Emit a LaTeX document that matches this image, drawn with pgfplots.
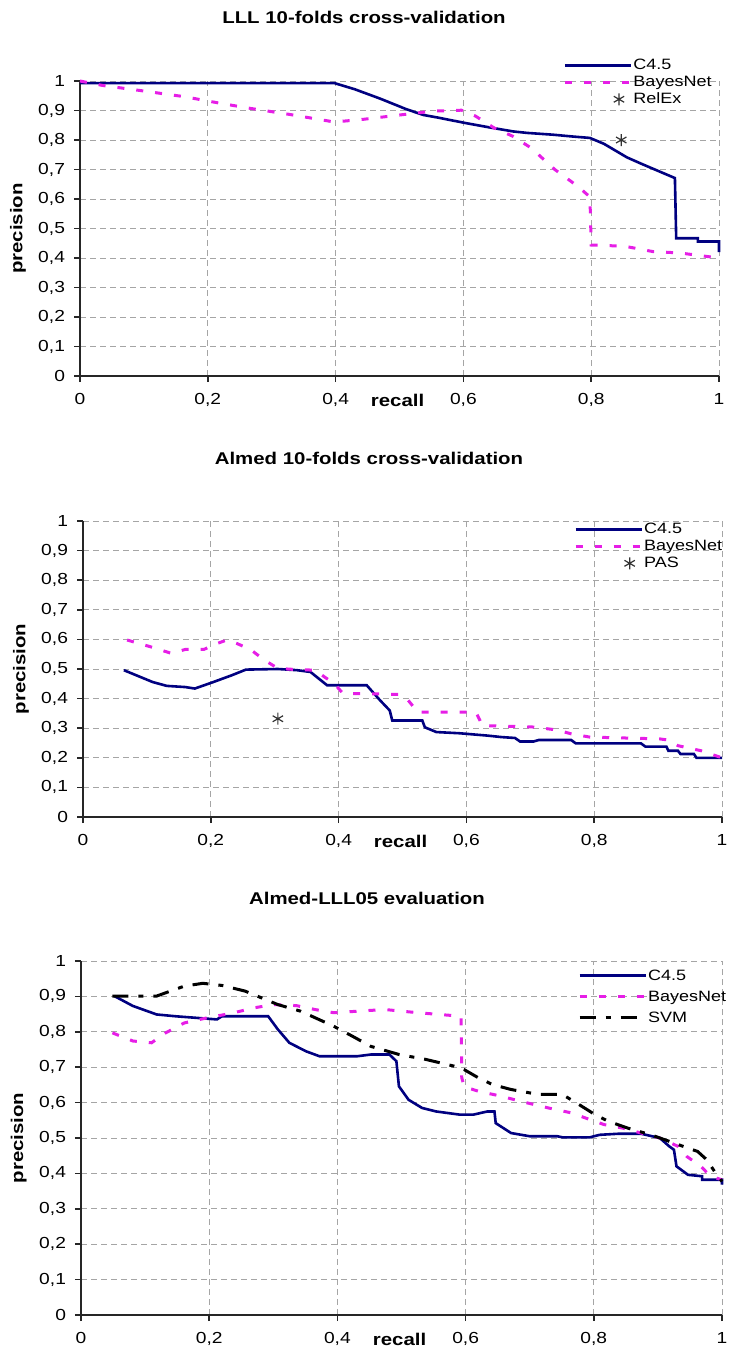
\documentclass[border=0pt]{standalone}
\usepackage{fontspec}
\setmainfont{Liberation Sans}[FakeStretch=1.2]
\usepackage{pgfplots}
\pgfplotsset{compat=1.18}
\definecolor{cnavy}{RGB}{0,0,128}
\definecolor{cmag}{RGB}{230,30,230}
\definecolor{cgrid}{RGB}{165,165,165}
\pgfplotsset{
  myaxis/.style={
    scale only axis, width=319.5pt,
    xmin=0, xmax=1, ymin=0, ymax=1,
    axis lines*=left,
    axis line style={line width=0.8pt, black!85},
    xtick={0,0.2,0.4,0.6,0.8,1},
    ytick={0,0.1,0.2,0.3,0.4,0.5,0.6,0.7,0.8,0.9,1},
    tick align=outside, major tick length=3pt,
    tick style={line width=0.8pt, black!85},
    grid=major,
    major grid style={cgrid, line width=0.5pt, dash pattern=on 3pt off 2pt},
    /pgf/number format/use comma,
    /pgf/number format/assume math mode=true,
    ticklabel style={font=\fontsize{8}{9}\selectfont},
    xticklabel style={yshift=-2pt},
    yticklabel style={xshift=-1pt},
    xlabel={recall}, ylabel={precision},
    label style={font=\bfseries\fontsize{8.5}{10}\selectfont},
    ylabel style={at={(axis description cs:-0.097,0.5)}, anchor=center},
    xlabel style={at={(axis description cs:0.497,0)}, anchor=center, yshift=-12pt},
    legend style={draw=none, fill=none, inner sep=0pt,
      font=\fontsize{7.5}{9}\selectfont,
      nodes={inner sep=0.5pt, text height=6pt, text depth=1.5pt}},
    legend cell align=left,
    clip=false,
  },
  c45/.style={cnavy, line width=1.3pt, mark=none,
    legend image code/.code={\draw[##1] (0pt,0pt) -- (33pt,0pt);}},
  bayes/.style={cmag, line width=1.5pt, mark=none, dash pattern=on 3.5pt off 6pt,
    legend image code/.code={\draw[##1] (0pt,0pt) -- (33pt,0pt);}},
  svm/.style={black, line width=1.5pt, mark=none, dash pattern=on 8pt off 5pt on 2.5pt off 5pt,
    legend image code/.code={\draw[##1] (0pt,0pt) -- (33pt,0pt);}},
  star/.style={only marks, mark=asterisk, mark size=3pt, black!80, mark options={line width=0.6pt},
    legend image code/.code={\path[draw=none] (0pt,0pt) -- (33pt,0pt); \draw[##1] plot coordinates {(27pt,0pt)};}},
}
\begin{document}
\begin{tikzpicture}
\path[use as bounding box] (0,0) rectangle (365.5pt,-677pt);
\node[font=\bfseries\fontsize{8.5}{10}\selectfont] at (182pt,-8.5pt) {LLL 10-folds cross-validation};
\node[font=\bfseries\fontsize{8.5}{10}\selectfont] at (184.5pt,-229pt) {Almed 10-folds cross-validation};
\node[font=\bfseries\fontsize{8.5}{10}\selectfont] at (183.5pt,-449pt) {Almed-LLL05 evaluation};

% ---------- Plot 1 ----------
\begin{axis}[myaxis, at={(40pt,-188pt)}, anchor=south west, height=147.5pt,
  legend style={at={(axis description cs:0.756,1.0835)}, anchor=north west}]
\addplot[c45] coordinates {(0,0.993) (0.398,0.993) (0.43,0.972) (0.47,0.94) (0.51,0.905) (0.537,0.885) (0.56,0.876) (0.602,0.858) (0.64,0.843) (0.678,0.829) (0.70,0.824) (0.74,0.818) (0.77,0.812) (0.798,0.807) (0.82,0.787) (0.856,0.741) (0.88,0.718) (0.931,0.671) (0.933,0.467) (0.967,0.467) (0.967,0.456) (1.0,0.456) (1.0,0.42)};
\addlegendentry{C4.5}
\addplot[bayes] coordinates {(0,1.0) (0.035,0.985) (0.1,0.966) (0.166,0.946) (0.2,0.932) (0.261,0.909) (0.327,0.887) (0.398,0.861) (0.443,0.870) (0.509,0.887) (0.553,0.898) (0.597,0.901) (0.619,0.881) (0.648,0.841) (0.677,0.813) (0.706,0.773) (0.743,0.70) (0.779,0.643) (0.798,0.607) (0.80,0.444) (0.852,0.44) (0.896,0.422) (0.939,0.417) (1,0.40)};
\addlegendentry{BayesNet}
\addplot[star] coordinates {(0.847,0.80)};
\addlegendentry{RelEx}
\end{axis}

% ---------- Plot 2 ----------
\begin{axis}[myaxis, at={(41.5pt,-408.5pt)}, anchor=south west, height=148pt,
  legend style={at={(axis description cs:0.768,1.002)}, anchor=north west}]
\addplot[c45] coordinates {(0.064,0.496) (0.109,0.456) (0.131,0.443) (0.16,0.439) (0.175,0.434) (0.204,0.456) (0.233,0.479) (0.255,0.498) (0.305,0.50) (0.335,0.496) (0.356,0.49) (0.382,0.445) (0.444,0.445) (0.465,0.394) (0.48,0.36) (0.484,0.326) (0.531,0.326) (0.535,0.303) (0.553,0.287) (0.589,0.283) (0.633,0.275) (0.655,0.27) (0.676,0.267) (0.684,0.255) (0.705,0.255) (0.713,0.26) (0.764,0.26) (0.771,0.249) (0.873,0.249) (0.88,0.238) (0.913,0.238) (0.916,0.224) (0.931,0.224) (0.935,0.213) (0.956,0.213) (0.96,0.2) (1,0.2)};
\addlegendentry{C4.5}
\addplot[bayes] coordinates {(0.069,0.598) (0.109,0.573) (0.138,0.553) (0.16,0.566) (0.189,0.566) (0.211,0.587) (0.225,0.598) (0.24,0.587) (0.262,0.566) (0.284,0.53) (0.305,0.502) (0.335,0.498) (0.364,0.496) (0.378,0.473) (0.393,0.451) (0.407,0.417) (0.436,0.417) (0.495,0.414) (0.509,0.394) (0.524,0.354) (0.567,0.354) (0.615,0.354) (0.625,0.309) (0.705,0.304) (0.742,0.294) (0.764,0.281) (0.793,0.27) (0.902,0.264) (0.916,0.26) (0.931,0.241) (0.967,0.224) (1,0.2)};
\addlegendentry{BayesNet}
\addplot[star] coordinates {(0.305,0.332)};
\addlegendentry{PAS}
\end{axis}

% ---------- Plot 3 ----------
\begin{axis}[myaxis, at={(40.5pt,-657.5pt)}, anchor=south west, height=177pt, width=320.5pt,
  legend style={at={(axis description cs:0.775,0.984)}, anchor=north west, row sep=2pt}]
\addplot[c45] coordinates {(0.052,0.901) (0.081,0.873) (0.118,0.849) (0.147,0.844) (0.176,0.84) (0.212,0.835) (0.22,0.844) (0.292,0.844) (0.307,0.807) (0.325,0.769) (0.351,0.745) (0.372,0.731) (0.431,0.731) (0.453,0.736) (0.481,0.736) (0.492,0.717) (0.496,0.646) (0.511,0.608) (0.532,0.585) (0.554,0.575) (0.591,0.566) (0.612,0.566) (0.634,0.575) (0.645,0.575) (0.647,0.542) (0.671,0.514) (0.70,0.505) (0.743,0.505) (0.751,0.502) (0.794,0.502) (0.809,0.509) (0.838,0.512) (0.874,0.512) (0.903,0.50) (0.918,0.476) (0.925,0.467) (0.929,0.42) (0.947,0.396) (0.969,0.392) (0.969,0.382) (1,0.382) (1,0.368)};
\addlegendentry{C4.5}
\addplot[bayes] coordinates {(0.049,0.797) (0.081,0.774) (0.11,0.769) (0.132,0.797) (0.161,0.825) (0.198,0.84) (0.234,0.852) (0.271,0.868) (0.30,0.877) (0.336,0.874) (0.365,0.863) (0.394,0.854) (0.474,0.863) (0.525,0.854) (0.593,0.844) (0.594,0.67) (0.598,0.645) (0.62,0.632) (0.656,0.618) (0.685,0.604) (0.729,0.585) (0.765,0.571) (0.794,0.552) (0.816,0.538) (0.845,0.528) (0.874,0.514) (0.903,0.50) (0.932,0.476) (0.945,0.448) (0.967,0.42) (0.982,0.392) (1,0.382)};
\addlegendentry{BayesNet}
\addplot[svm] coordinates {(0.049,0.901) (0.089,0.901) (0.118,0.901) (0.161,0.929) (0.19,0.937) (0.22,0.931) (0.256,0.915) (0.307,0.877) (0.343,0.858) (0.394,0.816) (0.423,0.788) (0.452,0.759) (0.496,0.736) (0.538,0.722) (0.582,0.703) (0.598,0.693) (0.62,0.67) (0.642,0.651) (0.671,0.637) (0.714,0.623) (0.751,0.623) (0.773,0.599) (0.802,0.566) (0.823,0.547) (0.853,0.528) (0.889,0.509) (0.911,0.495) (0.94,0.476) (0.962,0.462) (0.976,0.439) (0.99,0.401) (1,0.377)};
\addlegendentry{SVM}
\end{axis}
\end{tikzpicture}
\end{document}
